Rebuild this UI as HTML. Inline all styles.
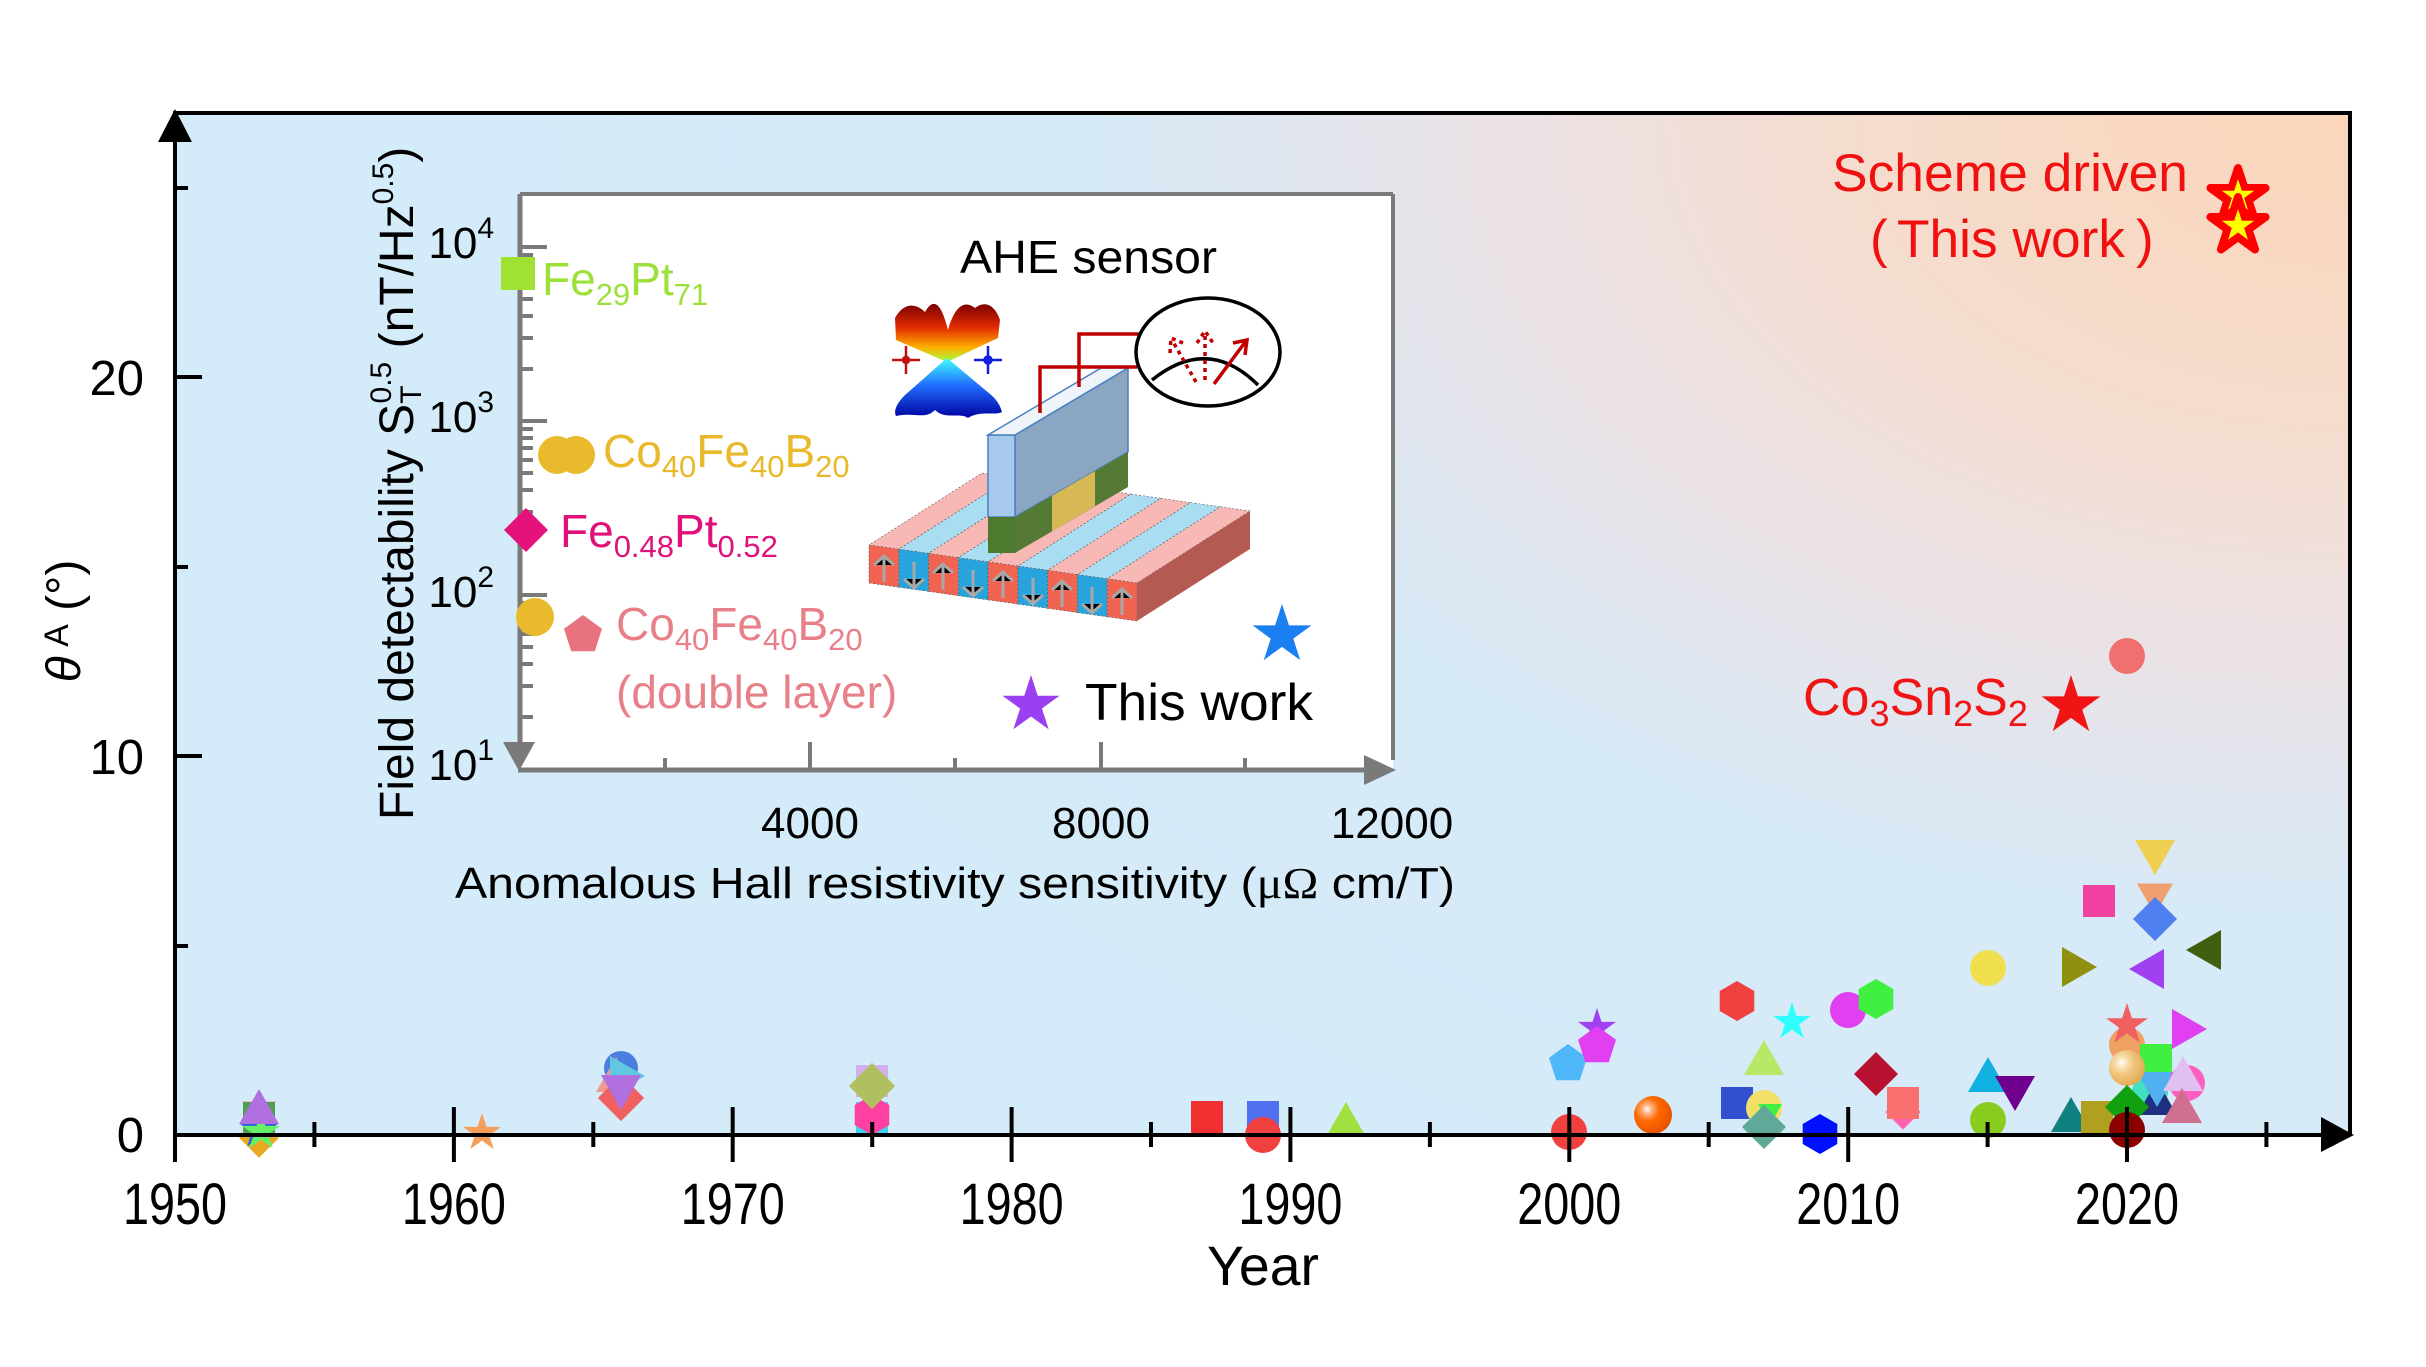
<!DOCTYPE html>
<html><head><meta charset="utf-8"><style>html,body{margin:0;padding:0;background:#fff}svg{display:block}text{font-family:"Liberation Sans","Noto Sans CJK SC",sans-serif}</style></head>
<body>
<svg width="2426" height="1367" viewBox="0 0 2426 1367" xmlns="http://www.w3.org/2000/svg">
<defs>
<radialGradient id="bg" gradientUnits="userSpaceOnUse" cx="2350" cy="113" r="1900" gradientTransform="translate(2350 113) scale(1 0.64) translate(-2350 -113)">
<stop offset="0" stop-color="#fad5ba"/><stop offset="0.25" stop-color="#f5dccc"/><stop offset="0.45" stop-color="#ebe2e6"/><stop offset="0.66" stop-color="#d7eaf7"/><stop offset="1" stop-color="#d4ebf9"/>
</radialGradient>
<linearGradient id="wt" x1="0" y1="0" x2="0" y2="1"><stop offset="0" stop-color="#7a0000"/><stop offset="0.4" stop-color="#e02a00"/><stop offset="0.75" stop-color="#ffb000"/><stop offset="1" stop-color="#a0ff40"/></linearGradient>
<linearGradient id="wb" x1="0" y1="0" x2="0" y2="1"><stop offset="0" stop-color="#40ffff"/><stop offset="0.45" stop-color="#2070ff"/><stop offset="1" stop-color="#0000a0"/></linearGradient>
<radialGradient id="so" cx="0.35" cy="0.35" r="0.7"><stop offset="0" stop-color="#ffffff"/><stop offset="0.18" stop-color="#ffb080"/><stop offset="0.45" stop-color="#ff6a00"/><stop offset="1" stop-color="#e85000"/></radialGradient>
<radialGradient id="sg" cx="0.35" cy="0.35" r="0.7"><stop offset="0" stop-color="#ffffff"/><stop offset="0.2" stop-color="#f8e2b8"/><stop offset="0.5" stop-color="#f0c57a"/><stop offset="1" stop-color="#e0aa55"/></radialGradient>
<path id="st" d="M0,-20 L4.49,-6.18 L19.02,-6.18 L7.27,2.36 L11.76,16.18 L0,7.64 L-11.76,16.18 L-7.27,2.36 L-19.02,-6.18 L-4.49,-6.18Z"/>
<polygon id="tu" points="0,-20 20,15 -20,15"/>
<polygon id="td" points="0,20 20,-15 -20,-15"/>
<polygon id="tl" points="-20,0 15,-20 15,20"/>
<polygon id="tr" points="20,0 -15,-20 -15,20"/>
<polygon id="dm" points="0,-22 22,0 0,22 -22,0"/>
<polygon id="pt" points="0,-20 19,-6.2 11.8,16.2 -11.8,16.2 -19,-6.2"/>
<polygon id="hx" points="0,-20 17.3,-10 17.3,10 0,20 -17.3,10 -17.3,-10"/>
<rect id="sq" x="-16" y="-16" width="32" height="32"/>
<circle id="ci" cx="0" cy="0" r="18"/>
</defs>

<!-- plot background -->
<rect x="175" y="113" width="2175" height="1022" fill="url(#bg)"/>

<!-- ===== INSET ===== -->
<rect x="520" y="194" width="873" height="576" fill="#ffffff"/>
<g stroke="#7a7a7a" fill="none">
<line x1="520" y1="194" x2="1393" y2="194" stroke-width="4"/>
<line x1="1393" y1="194" x2="1393" y2="760" stroke-width="4"/>
<line x1="520" y1="194" x2="520" y2="745" stroke-width="5"/>
<line x1="518" y1="770" x2="1370" y2="770" stroke-width="5"/>
<path d="M520 247H547M520 421H547M520 595H547" stroke-width="4"/>
<path stroke-width="4" d="M520 255H533M520 264H533M520 274H533M520 286H533M520 299H533M520 316H533M520 338H533M520 369H533
M520 429H533M520 438H533M520 448H533M520 460H533M520 473H533M520 490H533M520 512H533M520 543H533
M520 603H533M520 612H533M520 622H533M520 634H533M520 647H533M520 664H533M520 686H533M520 717H533"/>
<path stroke-width="4" d="M810 742V770M1101 742V770M665 758V770M955 758V770M1245 758V770"/>
</g>
<polygon points="503,742 535,742 519,771" fill="#7a7a7a"/>
<polygon points="1364,755 1396,770 1364,785" fill="#7a7a7a"/>

<g font-size="44" fill="#000" text-anchor="end">
<text x="494" y="258">10<tspan font-size="30" dy="-20">4</tspan></text>
<text x="494" y="432">10<tspan font-size="30" dy="-20">3</tspan></text>
<text x="494" y="607">10<tspan font-size="30" dy="-20">2</tspan></text>
<text x="494" y="780">10<tspan font-size="30" dy="-20">1</tspan></text>
</g>
<g font-size="44" fill="#000" text-anchor="middle">
<text x="810" y="838">4000</text>
<text x="1101" y="838">8000</text>
<text x="1392" y="838">12000</text>
</g>
<text x="455" y="898" font-size="44" textLength="1000" lengthAdjust="spacingAndGlyphs" fill="#000">Anomalous Hall resistivity sensitivity (<tspan font-family="Liberation Serif, serif">μΩ</tspan> cm/T)</text>
<text transform="translate(413,820) rotate(-90)" font-size="48" fill="#000">Field detectability S<tspan font-size="30" dy="8">T</tspan><tspan font-size="30" dx="-18" dy="-30">0.5</tspan><tspan font-size="48" dy="22"> (nT/Hz</tspan><tspan font-size="30" dy="-20">0.5</tspan><tspan font-size="48" dy="20">)</tspan></text>

<!-- inset data -->
<rect x="501" y="257" width="34" height="33" fill="#9fe232"/>
<text x="542" y="295" font-size="46" fill="#9de03a">Fe<tspan font-size="31" dy="10">29</tspan><tspan dy="-10">Pt</tspan><tspan font-size="31" dy="10">71</tspan></text>
<circle cx="557" cy="455" r="19" fill="#e9bb2c"/><circle cx="576" cy="455" r="19" fill="#e9bb2c"/>
<text x="603" y="467" font-size="46" fill="#e8b92a">Co<tspan font-size="31" dy="10">40</tspan><tspan dy="-10">Fe</tspan><tspan font-size="31" dy="10">40</tspan><tspan dy="-10">B</tspan><tspan font-size="31" dy="10">20</tspan></text>
<polygon points="526,508 548,530 526,552 504,530" fill="#e6127c"/>
<text x="560" y="547" font-size="46" fill="#e0127a">Fe<tspan font-size="31" dy="10">0.48</tspan><tspan dy="-10">Pt</tspan><tspan font-size="31" dy="10">0.52</tspan></text>
<circle cx="535" cy="617" r="19" fill="#e9bb2c"/>
<use href="#pt" x="583" y="635" fill="#e8737e"/>
<text x="616" y="640" font-size="46" fill="#e8808a">Co<tspan font-size="31" dy="10">40</tspan><tspan dy="-10">Fe</tspan><tspan font-size="31" dy="10">40</tspan><tspan dy="-10">B</tspan><tspan font-size="31" dy="10">20</tspan></text>
<text x="616" y="708" font-size="46" fill="#e8808a">(double layer)</text>
<use href="#st" transform="translate(1282,635) scale(1.55)" fill="#1a7ff0"/>
<use href="#st" transform="translate(1031,705) scale(1.5)" fill="#9b40f0"/>
<text x="1085" y="720" font-size="52" textLength="228" lengthAdjust="spacingAndGlyphs" fill="#000">This work</text>
<text x="960" y="273" font-size="46" textLength="257" lengthAdjust="spacingAndGlyphs" fill="#000">AHE sensor</text>

<!-- Weyl icon -->
<path d="M895,318 C905,300 918,305 925,312 C932,300 940,298 948,330 C955,305 965,300 975,308 C985,300 995,305 1000,320 L998,338 L947,362 L896,340 Z" fill="url(#wt)"/>
<path d="M947,358 L905,395 C898,402 893,410 896,416 C915,412 925,420 935,410 C945,420 960,412 968,418 C980,410 995,416 1002,412 C1000,404 995,398 990,394 Z" fill="url(#wb)"/>
<g stroke="#c01010" stroke-width="2.5" fill="#c01010"><line x1="892" y1="360" x2="920" y2="360"/><line x1="906" y1="346" x2="906" y2="374"/><circle cx="906" cy="360" r="3"/></g>
<g stroke="#1020e0" stroke-width="2.5" fill="#1020e0"><line x1="974" y1="360" x2="1002" y2="360"/><line x1="988" y1="346" x2="988" y2="374"/><circle cx="988" cy="360" r="3.5"/></g>

<!-- base slab -->
<g stroke="#555" stroke-width="0.6" stroke-dasharray="2 2">
<polygon points="869,545 898.8,549.2 1011.8,477.2 982,473" fill="#f8b9b6"/>
<polygon points="898.8,549.2 928.6,553.4 1041.6,481.4 1011.8,477.2" fill="#a9ddf2"/>
<polygon points="928.6,553.4 958.3,557.7 1071.3,485.7 1041.6,481.4" fill="#f8b9b6"/>
<polygon points="958.3,557.7 988.1,561.9 1101.1,489.9 1071.3,485.7" fill="#a9ddf2"/>
<polygon points="988.1,561.9 1017.9,566.1 1130.9,494.1 1101.1,489.9" fill="#f8b9b6"/>
<polygon points="1017.9,566.1 1047.7,570.3 1160.7,498.3 1130.9,494.1" fill="#a9ddf2"/>
<polygon points="1047.7,570.3 1077.4,574.6 1190.4,502.6 1160.7,498.3" fill="#f8b9b6"/>
<polygon points="1077.4,574.6 1107.2,578.8 1220.2,506.8 1190.4,502.6" fill="#a9ddf2"/>
<polygon points="1107.2,578.8 1137,583 1250,511 1220.2,506.8" fill="#f8b9b6"/>
<polygon points="869,545 898.8,549.2 898.8,587.2 869,583" fill="#f26452"/>
<polygon points="898.8,549.2 928.6,553.4 928.6,591.4 898.8,587.2" fill="#28a4dc"/>
<polygon points="928.6,553.4 958.3,557.7 958.3,595.7 928.6,591.4" fill="#f26452"/>
<polygon points="958.3,557.7 988.1,561.9 988.1,599.9 958.3,595.7" fill="#28a4dc"/>
<polygon points="988.1,561.9 1017.9,566.1 1017.9,604.1 988.1,599.9" fill="#f26452"/>
<polygon points="1017.9,566.1 1047.7,570.3 1047.7,608.3 1017.9,604.1" fill="#28a4dc"/>
<polygon points="1047.7,570.3 1077.4,574.6 1077.4,612.6 1047.7,608.3" fill="#f26452"/>
<polygon points="1077.4,574.6 1107.2,578.8 1107.2,616.8 1077.4,612.6" fill="#28a4dc"/>
<polygon points="1107.2,578.8 1137,583 1137,621 1107.2,616.8" fill="#f26452"/>
</g>
<polygon points="1137,583 1250,511 1250,549 1137,621" fill="#b55a52"/>
<g stroke="#a8a8a8" stroke-width="3">
<path d="M884 582V558M874 565 884 556 894 565"/>
<path d="M914 562V586M904 579 914 588 924 579"/>
<path d="M943 590V566M933 573 943 564 953 573"/>
<path d="M973 570V594M963 587 973 596 983 587"/>
<path d="M1003 598V574M993 581 1003 572 1013 581"/>
<path d="M1033 578V602M1023 595 1033 604 1043 595"/>
<path d="M1062 607V583M1052 590 1062 581 1072 590"/>
<path d="M1092 587V611M1082 604 1092 613 1102 604"/>
<path d="M1122 615V591M1112 598 1122 589 1132 598"/>
</g>
<!-- wall -->
<polygon points="1015,435 1128,368 1128,452 1015,517" fill="#8aa6c2" stroke="#4a80c0" stroke-width="1.5"/>
<polygon points="1015,517 1128,452 1128,487 1015,553" fill="#557a35"/>
<polygon points="1052,495.7 1095,471 1095,506 1052,531.4" fill="#d6b955"/>
<rect x="988" y="435" width="27" height="82" fill="#a6c9ec" stroke="#4a80c0" stroke-width="1.5"/>
<rect x="988" y="517" width="27" height="36" fill="#4e7a30"/>
<polygon points="988,435 1015,435 1128,368 1101,368" fill="#eef4fa" stroke="#4a80c0" stroke-width="1.5"/>
<!-- wires and meter -->
<g stroke="#c00000" stroke-width="3.5" fill="none">
<path d="M1040 413V367H1137"/>
<path d="M1079 387V334H1141"/>
</g>
<ellipse cx="1208" cy="352" rx="72" ry="54" fill="none" stroke="#000" stroke-width="3.5"/>
<path d="M1152 380 Q1208 335 1258 385" fill="none" stroke="#000" stroke-width="3.5"/>
<g stroke="#c00000" stroke-width="3.5" fill="none">
<path d="M1214 384 L1246 341M1233 343 L1247 340 L1245 355"/>
<path d="M1205 380 V332M1197 343 L1205 331 L1213 343" stroke-dasharray="4 4"/>
<path d="M1196 382 L1172 340M1170 353 L1171 338 L1183 343" stroke-dasharray="4 4"/>
</g>

<!-- ===== MAIN MARKERS ===== -->
<use href="#dm" transform="translate(259,1138) scale(0.9)" fill="#e8a820"/>
<use href="#td" transform="translate(259,1114) scale(0.85)" fill="#f8a8c8"/>
<use href="#sq" x="259" y="1118" fill="#50a050"/>
<use href="#st" x="259" y="1130" fill="#3060e0"/>
<use href="#st" x="261" y="1132" fill="#66f066"/>
<use href="#tu" x="259" y="1109" fill="#b070e0"/>
<use href="#st" x="482" y="1133" fill="#f5a05a"/>
<circle cx="621" cy="1068" r="17" fill="#4a7fe0"/>
<use href="#tu" x="616" y="1077" fill="#f09a90"/>
<use href="#tr" x="625" y="1076" fill="#60c8e0"/>
<use href="#dm" transform="translate(621,1098) scale(1.05)" fill="#f06060"/>
<use href="#td" x="621" y="1090" fill="#b070e0"/>
<use href="#sq" x="872" y="1118" fill="#40d0f0"/>
<use href="#sq" x="872" y="1081" fill="#d0b0f0"/>
<use href="#hx" x="872" y="1115" fill="#ff40a0"/>
<use href="#dm" transform="translate(872,1086) scale(1.05)" fill="#b0c060"/>
<use href="#sq" x="1207" y="1117" fill="#f03030"/>
<use href="#sq" x="1263" y="1117" fill="#5070f0"/>
<use href="#ci" x="1263" y="1135" fill="#f04040"/>
<use href="#tu" x="1346" y="1122" fill="#a0e040"/>
<use href="#ci" x="1569" y="1132" fill="#f04040"/>
<use href="#pt" x="1568" y="1064" fill="#50b8f8"/>
<use href="#st" x="1597" y="1028" fill="#a040f0"/>
<use href="#pt" x="1597" y="1046" fill="#e040f0"/>
<circle cx="1653" cy="1115" r="19" fill="url(#so)"/>
<use href="#hx" x="1737" y="1001" fill="#f04040"/>
<use href="#sq" x="1737" y="1103" fill="#3050d0"/>
<use href="#tu" x="1764" y="1060" fill="#b8e868"/>
<use href="#ci" x="1764" y="1108" fill="#f0e068"/>
<use href="#td" transform="translate(1770,1113) scale(0.6)" fill="#40f040"/>
<use href="#dm" x="1764" y="1127" fill="#60a898"/>
<use href="#st" x="1792" y="1022" fill="#30ffff"/>
<use href="#hx" x="1820" y="1134" fill="#0010ff"/>
<use href="#ci" x="1848" y="1010" fill="#e040f0"/>
<use href="#hx" x="1876" y="999" fill="#40f040"/>
<use href="#dm" x="1876" y="1074" fill="#b81030"/>
<use href="#dm" transform="translate(1903,1112) scale(0.8)" fill="#ff60b0"/>
<use href="#sq" x="1903" y="1103" fill="#f87070"/>
<use href="#ci" x="1988" y="968" fill="#f0e050"/>
<use href="#tu" x="1988" y="1077" fill="#10b0e0"/>
<use href="#ci" x="1988" y="1120" fill="#88cc20"/>
<use href="#td" x="2015" y="1091" fill="#700090"/>
<use href="#tu" x="2071" y="1117" fill="#108080"/>
<use href="#sq" x="2097" y="1117" fill="#b0a020"/>
<use href="#tr" x="2077" y="967" fill="#909010"/>
<use href="#sq" x="2099" y="901" fill="#f040a0"/>
<use href="#ci" x="2127" y="1045" fill="#f0a060"/>
<use href="#st" transform="translate(2127,1025) scale(1.1)" fill="#f06060"/>
<use href="#sq" x="2156" y="1060" fill="#40f040"/>
<use href="#ci" x="2150" y="1092" fill="#40e0c0"/>
<use href="#tu" x="2157" y="1100" fill="#203080"/>
<use href="#td" x="2157" y="1087" fill="#50b0f0"/>
<circle cx="2127" cy="1068" r="18" fill="url(#sg)"/>
<use href="#dm" x="2127" y="1107" fill="#10a010"/>
<use href="#ci" x="2127" y="1130" fill="#8b0000"/>
<use href="#td" transform="translate(2155,897) scale(0.9)" fill="#f0a070"/>
<use href="#td" x="2155" y="855" fill="#f0d050"/>
<use href="#dm" x="2155" y="919" fill="#5080f0"/>
<use href="#tl" x="2149" y="969" fill="#a040f0"/>
<use href="#ci" x="2187" y="1083" fill="#ff60c0"/>
<use href="#tu" x="2183" y="1076" fill="#e0c0f0"/>
<use href="#tu" x="2182" y="1108" fill="#d07090"/>
<use href="#tr" x="2187" y="1029" fill="#e040f0"/>
<use href="#tl" x="2206" y="950" fill="#406010"/>
<use href="#ci" x="2127" y="656" fill="#f07070"/>
<use href="#st" transform="translate(2071,706) scale(1.55)" fill="#f01414"/>
<text x="1803" y="715" font-size="52" fill="#f01414">Co<tspan font-size="36" dy="11">3</tspan><tspan dy="-11">Sn</tspan><tspan font-size="36" dy="11">2</tspan><tspan dy="-11">S</tspan><tspan font-size="36" dy="11">2</tspan></text>

<!-- scheme driven -->
<text x="1832" y="191" font-size="53" textLength="356" lengthAdjust="spacingAndGlyphs" fill="#f01010">Scheme driven</text>
<text x="1870" y="257" font-size="53" fill="#f01010">(</text>
<text x="1897" y="257" font-size="53" textLength="228" lengthAdjust="spacingAndGlyphs" fill="#f01010">This work</text>
<text x="2136" y="257" font-size="53" fill="#f01010">)</text>
<use href="#st" transform="translate(2238,197) scale(1.45)" fill="#ff0000" stroke="#ff0000" stroke-width="5.5" stroke-linejoin="round"/>
<use href="#st" transform="translate(2238,196) scale(0.85)" fill="#ffff00"/>
<use href="#st" transform="translate(2238,226) scale(1.45)" fill="#ff0000" stroke="#ff0000" stroke-width="5.5" stroke-linejoin="round"/>
<use href="#st" transform="translate(2238,226) scale(0.85)" fill="#ffff00"/>

<!-- ===== MAIN AXES ===== -->
<g stroke="#000" fill="none" stroke-width="4">
<line x1="173" y1="113" x2="2352" y2="113"/>
<line x1="2350" y1="113" x2="2350" y2="1135"/>
<line x1="175" y1="135" x2="175" y2="1162"/>
<line x1="175" y1="1135" x2="2325" y2="1135"/>
<path d="M453.9 1107V1162M732.7 1107V1162M1011.6 1107V1162M1290.4 1107V1162M1569.3 1107V1162M1848.2 1107V1162M2127 1107V1162"/>
<path d="M314.4 1122V1147M593.3 1122V1147M872.2 1122V1147M1151 1122V1147M1429.9 1122V1147M1708.7 1122V1147M1987.6 1122V1147M2266.4 1122V1147"/>
<path d="M175 756H202M175 377H202M175 946H188M175 567H188M175 188H188"/>
</g>
<polygon points="175,109 158,142 192,142" fill="#000"/>
<polygon points="2321,1117 2354,1135 2321,1152" fill="#000"/>

<g font-size="49" fill="#000" text-anchor="end">
<text x="144" y="395">20</text>
<text x="144" y="774">10</text>
<text x="144" y="1152">0</text>
</g>
<g font-size="58" fill="#000" text-anchor="middle">
<text x="175" y="1224" textLength="104" lengthAdjust="spacingAndGlyphs">1950</text>
<text x="453.9" y="1224" textLength="104" lengthAdjust="spacingAndGlyphs">1960</text>
<text x="732.7" y="1224" textLength="104" lengthAdjust="spacingAndGlyphs">1970</text>
<text x="1011.6" y="1224" textLength="104" lengthAdjust="spacingAndGlyphs">1980</text>
<text x="1290.4" y="1224" textLength="104" lengthAdjust="spacingAndGlyphs">1990</text>
<text x="1569.3" y="1224" textLength="104" lengthAdjust="spacingAndGlyphs">2000</text>
<text x="1848.2" y="1224" textLength="104" lengthAdjust="spacingAndGlyphs">2010</text>
<text x="2127" y="1224" textLength="104" lengthAdjust="spacingAndGlyphs">2020</text>
</g>
<text x="1263" y="1285" font-size="56" text-anchor="middle" textLength="112" lengthAdjust="spacingAndGlyphs" fill="#000">Year</text>
<text transform="translate(80,621) rotate(-90)" font-size="48" text-anchor="middle" fill="#000"><tspan font-style="italic">θ</tspan><tspan font-size="34" dy="-12"> A</tspan><tspan dy="12"> (°)</tspan></text>
</svg>
</body></html>
